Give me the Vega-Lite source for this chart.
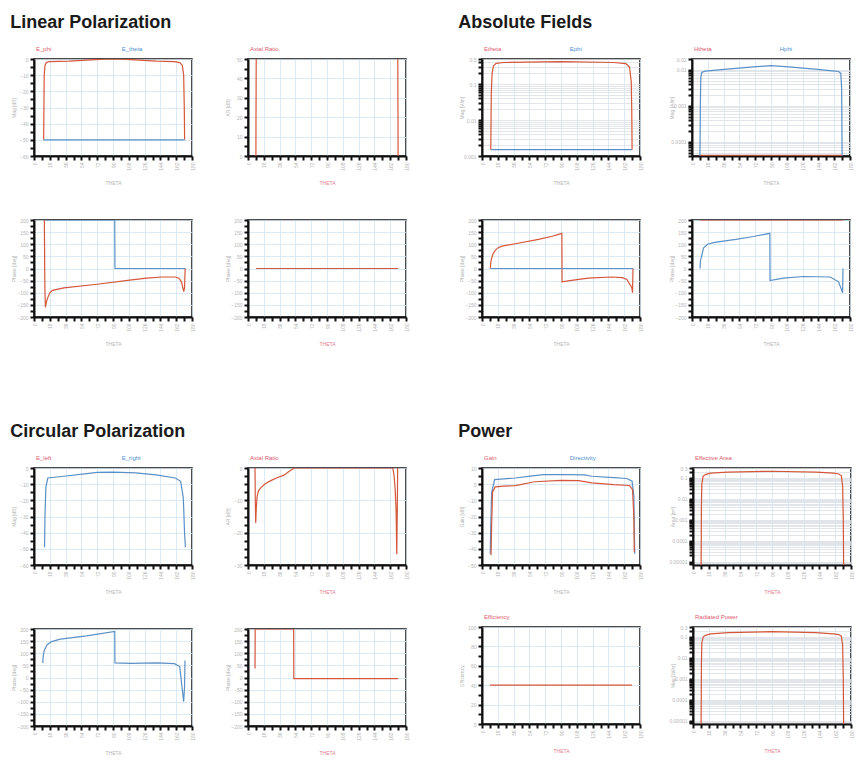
{
"$schema": "https://vega.github.io/schema/vega-lite/v6.json",
"padding": {"left": 10, "top": 14, "right": 0, "bottom": 0},
"background": "white",
"config": {
 "font": "Liberation Sans",
 "view": {"stroke": "#111", "strokeWidth": 1.5},
 "axis": {"labelFontSize": 5, "labelColor": "#b5b5b5", "titleFontSize": 5, "titleColor": "#b5b5b5", "titleFontWeight": "normal", "domainColor": "#111", "domainWidth": 2, "tickColor": "#111", "tickWidth": 2, "tickSize": 4, "gridColor": "#d3e4f1", "gridWidth": 0.8, "labelOverlap": false},
 "axisX": {"labelAngle": -90, "labelAlign": "right", "labelBaseline": "middle", "minExtent": 14, "maxExtent": 14, "titlePadding": 10},
 "axisY": {"minExtent": 16, "maxExtent": 16, "titlePadding": 2},
 "title": {"anchor": "start", "fontSize": 18, "fontWeight": "bold", "color": "#1a1a1a", "offset": 13},
 "line": {"strokeWidth": 1.2},
 "text": {"fontSize": 6, "align": "left", "baseline": "bottom", "dy": -7}
},
"datasets": {
 "a1": [
  {"t":11,"v":-50,"s":"E_phi"},{"t":11.3,"v":-30,"s":"E_phi"},{"t":11.6,"v":-10,"s":"E_phi"},{"t":12.5,"v":-4,"s":"E_phi"},{"t":14,"v":-2.2,"s":"E_phi"},{"t":17,"v":-1.6,"s":"E_phi"},{"t":40,"v":-1.3,"s":"E_phi"},{"t":60,"v":-0.7,"s":"E_phi"},{"t":75,"v":-0.2,"s":"E_phi"},{"t":90,"v":0,"s":"E_phi"},{"t":105,"v":-0.2,"s":"E_phi"},{"t":120,"v":-0.7,"s":"E_phi"},{"t":140,"v":-1.3,"s":"E_phi"},{"t":160,"v":-1.6,"s":"E_phi"},{"t":166,"v":-2.2,"s":"E_phi"},{"t":169,"v":-4,"s":"E_phi"},{"t":170.5,"v":-10,"s":"E_phi"},{"t":171.2,"v":-30,"s":"E_phi"},{"t":171.6,"v":-50,"s":"E_phi"},
  {"t":11,"v":-50,"s":"E_theta"},{"t":171.6,"v":-50,"s":"E_theta"}
 ],
 "a2": [
  {"t":9,"v":0,"s":"AR"},{"t":9.1,"v":20,"s":"AR"},{"t":9.2,"v":26,"s":"AR"},{"t":9.3,"v":45,"s":"AR"},{"t":9.5,"v":60,"s":"AR"},{"t":90,"v":60,"s":"AR"},{"t":170.5,"v":60,"s":"AR"},{"t":170.7,"v":45,"s":"AR"},{"t":170.8,"v":26,"s":"AR"},{"t":170.9,"v":20,"s":"AR"},{"t":171,"v":0,"s":"AR"}
 ],
 "a3": [
  {"t":11.8,"v":200,"s":"E_phi"},{"t":12,"v":100,"s":"E_phi"},{"t":12.2,"v":0,"s":"E_phi"},{"t":12.5,"v":-100,"s":"E_phi"},{"t":13,"v":-160,"s":"E_phi"},{"t":14,"v":-140,"s":"E_phi"},{"t":15.7,"v":-120,"s":"E_phi"},{"t":18,"v":-100,"s":"E_phi"},{"t":21,"v":-90,"s":"E_phi"},{"t":34,"v":-80,"s":"E_phi"},{"t":72,"v":-65,"s":"E_phi"},{"t":109,"v":-48,"s":"E_phi"},{"t":128,"v":-40,"s":"E_phi"},{"t":146,"v":-35,"s":"E_phi"},{"t":161,"v":-35,"s":"E_phi"},{"t":165,"v":-40,"s":"E_phi"},{"t":168,"v":-55,"s":"E_phi"},{"t":170.6,"v":-95,"s":"E_phi"},{"t":171.5,"v":-80,"s":"E_phi"},{"t":172.2,"v":0,"s":"E_phi"},
  {"t":12,"v":200,"s":"E_theta"},{"t":92,"v":200,"s":"E_theta"},{"t":92.2,"v":0,"s":"E_theta"},{"t":172.5,"v":0,"s":"E_theta"}
 ],
 "a4": [
  {"t":9,"v":0,"s":"E_phi"},{"t":171,"v":0,"s":"E_phi"}
 ],
 "b1": [
  {"t":10,"v":0.0015,"s":"Etheta"},{"t":10.3,"v":0.01,"s":"Etheta"},{"t":10.6,"v":0.06,"s":"Etheta"},{"t":11.5,"v":0.2,"s":"Etheta"},{"t":13,"v":0.32,"s":"Etheta"},{"t":16,"v":0.38,"s":"Etheta"},{"t":25,"v":0.4,"s":"Etheta"},{"t":90,"v":0.42,"s":"Etheta"},{"t":150,"v":0.4,"s":"Etheta"},{"t":164,"v":0.37,"s":"Etheta"},{"t":168,"v":0.3,"s":"Etheta"},{"t":170,"v":0.12,"s":"Etheta"},{"t":170.6,"v":0.02,"s":"Etheta"},{"t":171,"v":0.0015,"s":"Etheta"},
  {"t":10,"v":0.0015,"s":"Ephi"},{"t":171,"v":0.0015,"s":"Ephi"}
 ],
 "b2": [
  {"t":9,"v":0.00004,"s":"Hphi"},{"t":9.2,"v":0.0001,"s":"Hphi"},{"t":9.5,"v":0.001,"s":"Hphi"},{"t":10,"v":0.006,"s":"Hphi"},{"t":11,"v":0.0085,"s":"Hphi"},{"t":15,"v":0.0092,"s":"Hphi"},{"t":40,"v":0.0105,"s":"Hphi"},{"t":70,"v":0.012,"s":"Hphi"},{"t":90,"v":0.013,"s":"Hphi"},{"t":110,"v":0.012,"s":"Hphi"},{"t":140,"v":0.0105,"s":"Hphi"},{"t":160,"v":0.0094,"s":"Hphi"},{"t":167,"v":0.009,"s":"Hphi"},{"t":169.5,"v":0.008,"s":"Hphi"},{"t":170.5,"v":0.003,"s":"Hphi"},{"t":171,"v":0.00004,"s":"Hphi"},
  {"t":9,"v":0.000042,"s":"Htheta"},{"t":171,"v":0.000042,"s":"Htheta"}
 ],
 "b3": [
  {"t":9.4,"v":0,"s":"Etheta"},{"t":10,"v":25,"s":"Etheta"},{"t":10.8,"v":40,"s":"Etheta"},{"t":12.5,"v":60,"s":"Etheta"},{"t":15.1,"v":75,"s":"Etheta"},{"t":18,"v":85,"s":"Etheta"},{"t":22.7,"v":92,"s":"Etheta"},{"t":37.9,"v":102,"s":"Etheta"},{"t":64.4,"v":120,"s":"Etheta"},{"t":80,"v":133,"s":"Etheta"},{"t":91,"v":145,"s":"Etheta"},{"t":91.2,"v":-55,"s":"Etheta"},{"t":100,"v":-50,"s":"Etheta"},{"t":121,"v":-40,"s":"Etheta"},{"t":147.8,"v":-35,"s":"Etheta"},{"t":160,"v":-38,"s":"Etheta"},{"t":165,"v":-45,"s":"Etheta"},{"t":170.6,"v":-78,"s":"Etheta"},{"t":171.5,"v":-100,"s":"Etheta"},{"t":172,"v":0,"s":"Etheta"},
  {"t":9.4,"v":0,"s":"Ephi"},{"t":172,"v":0,"s":"Ephi"}
 ],
 "b4": [
  {"t":9.2,"v":0,"s":"Hphi"},{"t":9.5,"v":30,"s":"Hphi"},{"t":10.9,"v":50,"s":"Hphi"},{"t":13.2,"v":85,"s":"Hphi"},{"t":17.8,"v":100,"s":"Hphi"},{"t":25.8,"v":108,"s":"Hphi"},{"t":50,"v":120,"s":"Hphi"},{"t":70,"v":132,"s":"Hphi"},{"t":88.7,"v":145,"s":"Hphi"},{"t":88.9,"v":-50,"s":"Hphi"},{"t":104,"v":-40,"s":"Hphi"},{"t":127,"v":-33,"s":"Hphi"},{"t":157.5,"v":-35,"s":"Hphi"},{"t":167,"v":-55,"s":"Hphi"},{"t":171.6,"v":-100,"s":"Hphi"},{"t":172,"v":0,"s":"Hphi"},
  {"t":9,"v":200,"s":"Htheta"},{"t":172,"v":200,"s":"Htheta"}
 ],
 "c1": [
  {"t":12,"v":-49,"s":"E_right"},{"t":12.5,"v":-30,"s":"E_right"},{"t":13.5,"v":-12,"s":"E_right"},{"t":15.7,"v":-6.2,"s":"E_right"},{"t":34,"v":-5.1,"s":"E_right"},{"t":60,"v":-3.5,"s":"E_right"},{"t":72,"v":-2.7,"s":"E_right"},{"t":90,"v":-2.5,"s":"E_right"},{"t":116,"v":-3,"s":"E_right"},{"t":139,"v":-4.2,"s":"E_right"},{"t":161,"v":-6.2,"s":"E_right"},{"t":167,"v":-8.2,"s":"E_right"},{"t":170,"v":-18,"s":"E_right"},{"t":170.6,"v":-25.7,"s":"E_right"},{"t":171.5,"v":-40,"s":"E_right"},{"t":172.5,"v":-49,"s":"E_right"}
 ],
 "c2": [
  {"t":8,"v":0,"s":"AR"},{"t":8.3,"v":-10,"s":"AR"},{"t":8.8,"v":-17,"s":"AR"},{"t":9.5,"v":-12,"s":"AR"},{"t":10.5,"v":-8.6,"s":"AR"},{"t":12,"v":-7,"s":"AR"},{"t":15,"v":-6,"s":"AR"},{"t":20,"v":-4.8,"s":"AR"},{"t":26,"v":-3.9,"s":"AR"},{"t":33,"v":-3,"s":"AR"},{"t":41,"v":-2.2,"s":"AR"},{"t":47,"v":-1,"s":"AR"},{"t":52.7,"v":0,"s":"AR"},{"t":165,"v":0,"s":"AR"},{"t":166.4,"v":-2.4,"s":"AR"},{"t":167.5,"v":-6,"s":"AR"},{"t":168.7,"v":-12.7,"s":"AR"},{"t":169.5,"v":-26.7,"s":"AR"},{"t":170,"v":-15,"s":"AR"},{"t":170.5,"v":0,"s":"AR"}
 ],
 "c3": [
  {"t":10,"v":60,"s":"E_right"},{"t":10.5,"v":90,"s":"E_right"},{"t":12,"v":115,"s":"E_right"},{"t":15,"v":135,"s":"E_right"},{"t":20,"v":148,"s":"E_right"},{"t":30,"v":158,"s":"E_right"},{"t":60,"v":172,"s":"E_right"},{"t":92,"v":190,"s":"E_right"},{"t":92.2,"v":60,"s":"E_right"},{"t":110,"v":58,"s":"E_right"},{"t":140,"v":60,"s":"E_right"},{"t":160,"v":57,"s":"E_right"},{"t":166,"v":45,"s":"E_right"},{"t":170.5,"v":-100,"s":"E_right"},{"t":171.5,"v":-40,"s":"E_right"},{"t":172,"v":70,"s":"E_right"}
 ],
 "c4": [
  {"t":8,"v":37,"s":"AR"},{"t":8.1,"v":120,"s":"AR"},{"t":8.2,"v":200,"s":"AR"},{"t":52,"v":200,"s":"AR"},{"t":52.2,"v":-5,"s":"AR"},{"t":171,"v":-5,"s":"AR"}
 ],
 "d1": [
  {"t":9.4,"v":-43,"s":"Directivity"},{"t":10,"v":-25,"s":"Directivity"},{"t":11,"v":-5,"s":"Directivity"},{"t":14.4,"v":2.8,"s":"Directivity"},{"t":25,"v":3.3,"s":"Directivity"},{"t":38,"v":3.8,"s":"Directivity"},{"t":55,"v":5,"s":"Directivity"},{"t":70,"v":5.9,"s":"Directivity"},{"t":100,"v":5.9,"s":"Directivity"},{"t":117,"v":5.7,"s":"Directivity"},{"t":125,"v":4.9,"s":"Directivity"},{"t":150,"v":4,"s":"Directivity"},{"t":165,"v":3.5,"s":"Directivity"},{"t":171,"v":1.8,"s":"Directivity"},{"t":173,"v":-7.5,"s":"Directivity"},{"t":174,"v":-43,"s":"Directivity"},
  {"t":10.3,"v":-44,"s":"Gain"},{"t":11,"v":-25,"s":"Gain"},{"t":12,"v":-5,"s":"Gain"},{"t":15,"v":-1.7,"s":"Gain"},{"t":25,"v":-1.2,"s":"Gain"},{"t":38,"v":-0.9,"s":"Gain"},{"t":60,"v":1.5,"s":"Gain"},{"t":90,"v":2.4,"s":"Gain"},{"t":110,"v":2.2,"s":"Gain"},{"t":125,"v":0.75,"s":"Gain"},{"t":150,"v":-0.3,"s":"Gain"},{"t":168,"v":-0.8,"s":"Gain"},{"t":171.5,"v":-3.4,"s":"Gain"},{"t":173,"v":-20,"s":"Gain"},{"t":173.5,"v":-42,"s":"Gain"}
 ],
 "d2": [
  {"t":9.2,"v":0.000007,"s":"EA"},{"t":9.4,"v":0.0001,"s":"EA"},{"t":9.6,"v":0.005,"s":"EA"},{"t":10,"v":0.05,"s":"EA"},{"t":11.5,"v":0.12,"s":"EA"},{"t":14,"v":0.145,"s":"EA"},{"t":20,"v":0.17,"s":"EA"},{"t":40,"v":0.19,"s":"EA"},{"t":90,"v":0.21,"s":"EA"},{"t":140,"v":0.19,"s":"EA"},{"t":160,"v":0.17,"s":"EA"},{"t":166,"v":0.155,"s":"EA"},{"t":169,"v":0.13,"s":"EA"},{"t":170.5,"v":0.04,"s":"EA"},{"t":171.2,"v":0.001,"s":"EA"},{"t":171.6,"v":0.000007,"s":"EA"}
 ],
 "d3": [
  {"t":9,"v":40,"s":"Eff"},{"t":171,"v":40,"s":"Eff"}
 ],
 "d4": [
  {"t":9.2,"v":0.000007,"s":"RP"},{"t":9.4,"v":0.0001,"s":"RP"},{"t":9.6,"v":0.005,"s":"RP"},{"t":10,"v":0.05,"s":"RP"},{"t":11.5,"v":0.1,"s":"RP"},{"t":14,"v":0.12,"s":"RP"},{"t":20,"v":0.14,"s":"RP"},{"t":40,"v":0.16,"s":"RP"},{"t":90,"v":0.18,"s":"RP"},{"t":140,"v":0.16,"s":"RP"},{"t":160,"v":0.14,"s":"RP"},{"t":166,"v":0.13,"s":"RP"},{"t":169,"v":0.11,"s":"RP"},{"t":170.5,"v":0.04,"s":"RP"},{"t":171.2,"v":0.001,"s":"RP"},{"t":171.6,"v":0.000007,"s":"RP"}
 ]
},
"spacing": 76,
"vconcat": [
 {"hconcat": [
  {"title": "Linear Polarization",
   "spacing": 31,
   "vconcat": [
    {"hconcat": [
     {"width": 158, "height": 97, "layer": [
      {"data": {"name": "a1"}, "mark": {"type": "line", "clip": true}, "encoding": {
        "x": {"field": "t", "type": "quantitative", "scale": {"domain": [0, 180], "nice": false}, "axis": {"title": "THETA", "values": [0,9,18,27,36,45,54,63,72,81,90,99,108,117,126,135,144,153,162,171,180], "labelExpr": "datum.value % 18 === 0 ? datum.label : ''", "gridOpacity": {"condition": {"test": "datum.value % 18 === 0", "value": 1}, "value": 0}}},
        "y": {"field": "v", "type": "quantitative", "scale": {"domain": [-60, 0], "nice": false}, "axis": {"title": "Mag [dB]", "values": [-60,-55,-50,-45,-40,-35,-30,-25,-20,-15,-10,-5,0], "labelExpr": "datum.value % 10 === 0 ? datum.label : ''", "gridOpacity": {"condition": {"test": "datum.value % 10 === 0", "value": 1}, "value": 0}}},
        "color": {"field": "s", "type": "nominal", "scale": {"domain": ["E_phi", "E_theta"], "range": ["#d4573b", "#5b90c6"]}, "legend": null}}},
      {"data": {"values": [{}]}, "mark": {"type": "text", "text": "E_phi", "color": "#e05a6e", "dx": 2}, "encoding": {
        "x": {"datum": 0, "type": "quantitative", "axis": {"title": "THETA", "values": [0,9,18,27,36,45,54,63,72,81,90,99,108,117,126,135,144,153,162,171,180], "labelExpr": "datum.value % 18 === 0 ? datum.label : ''", "gridOpacity": {"condition": {"test": "datum.value % 18 === 0", "value": 1}, "value": 0}}},
        "y": {"datum": 0, "type": "quantitative", "axis": {"title": "Mag [dB]", "values": [-60,-55,-50,-45,-40,-35,-30,-25,-20,-15,-10,-5,0], "labelExpr": "datum.value % 10 === 0 ? datum.label : ''", "gridOpacity": {"condition": {"test": "datum.value % 10 === 0", "value": 1}, "value": 0}}}}},
      {"data": {"values": [{}]}, "mark": {"type": "text", "text": "E_theta", "color": "#4f8fd0"}, "encoding": {
        "x": {"datum": 100, "type": "quantitative", "axis": {"title": "THETA", "values": [0,9,18,27,36,45,54,63,72,81,90,99,108,117,126,135,144,153,162,171,180], "labelExpr": "datum.value % 18 === 0 ? datum.label : ''", "gridOpacity": {"condition": {"test": "datum.value % 18 === 0", "value": 1}, "value": 0}}},
        "y": {"datum": 0, "type": "quantitative", "axis": {"title": "Mag [dB]", "values": [-60,-55,-50,-45,-40,-35,-30,-25,-20,-15,-10,-5,0], "labelExpr": "datum.value % 10 === 0 ? datum.label : ''", "gridOpacity": {"condition": {"test": "datum.value % 10 === 0", "value": 1}, "value": 0}}}}}
     ]},
     {"width": 158, "height": 97, "layer": [
      {"data": {"name": "a2"}, "mark": {"type": "line", "clip": true, "color": "#d4573b"}, "encoding": {
        "x": {"field": "t", "type": "quantitative", "scale": {"domain": [0, 180], "nice": false}, "axis": {"title": "THETA", "titleColor": "#e27d8f", "values": [0,9,18,27,36,45,54,63,72,81,90,99,108,117,126,135,144,153,162,171,180], "labelExpr": "datum.value % 18 === 0 ? datum.label : ''", "gridOpacity": {"condition": {"test": "datum.value % 18 === 0", "value": 1}, "value": 0}}},
        "y": {"field": "v", "type": "quantitative", "scale": {"domain": [0, 50], "nice": false}, "axis": {"title": "AR [dB]", "values": [0,5,10,15,20,25,30,35,40,45,50], "labelExpr": "datum.value % 10 === 0 ? datum.label : ''", "gridOpacity": {"condition": {"test": "datum.value % 10 === 0", "value": 1}, "value": 0}}}}},
      {"data": {"values": [{}]}, "mark": {"type": "text", "text": "Axial Ratio", "color": "#e05a6e", "dx": 2}, "encoding": {
        "x": {"datum": 0, "type": "quantitative", "axis": {"title": "THETA", "titleColor": "#e27d8f", "values": [0,9,18,27,36,45,54,63,72,81,90,99,108,117,126,135,144,153,162,171,180], "labelExpr": "datum.value % 18 === 0 ? datum.label : ''", "gridOpacity": {"condition": {"test": "datum.value % 18 === 0", "value": 1}, "value": 0}}},
        "y": {"datum": 50, "type": "quantitative", "axis": {"title": "AR [dB]", "values": [0,5,10,15,20,25,30,35,40,45,50], "labelExpr": "datum.value % 10 === 0 ? datum.label : ''", "gridOpacity": {"condition": {"test": "datum.value % 10 === 0", "value": 1}, "value": 0}}}}}
     ]}
    ], "spacing": 28},
    {"hconcat": [
     {"width": 158, "height": 97, "layer": [
      {"data": {"name": "a3"}, "mark": {"type": "line", "clip": true}, "encoding": {
        "x": {"field": "t", "type": "quantitative", "scale": {"domain": [0, 180], "nice": false}, "axis": {"title": "THETA", "values": [0,9,18,27,36,45,54,63,72,81,90,99,108,117,126,135,144,153,162,171,180], "labelExpr": "datum.value % 18 === 0 ? datum.label : ''", "gridOpacity": {"condition": {"test": "datum.value % 18 === 0", "value": 1}, "value": 0}}},
        "y": {"field": "v", "type": "quantitative", "scale": {"domain": [-200, 200], "nice": false}, "axis": {"title": "Phase [deg]", "values": [-200,-175,-150,-125,-100,-75,-50,-25,0,25,50,75,100,125,150,175,200], "labelExpr": "datum.value % 50 === 0 ? datum.label : ''", "gridOpacity": {"condition": {"test": "datum.value % 50 === 0", "value": 1}, "value": 0}}},
        "color": {"field": "s", "type": "nominal", "scale": {"domain": ["E_phi", "E_theta"], "range": ["#d4573b", "#5b90c6"]}, "legend": null}}}
     ]},
     {"width": 158, "height": 97, "layer": [
      {"data": {"name": "a4"}, "mark": {"type": "line", "clip": true, "color": "#d4573b"}, "encoding": {
        "x": {"field": "t", "type": "quantitative", "scale": {"domain": [0, 180], "nice": false}, "axis": {"title": "THETA", "titleColor": "#e27d8f", "values": [0,9,18,27,36,45,54,63,72,81,90,99,108,117,126,135,144,153,162,171,180], "labelExpr": "datum.value % 18 === 0 ? datum.label : ''", "gridOpacity": {"condition": {"test": "datum.value % 18 === 0", "value": 1}, "value": 0}}},
        "y": {"field": "v", "type": "quantitative", "scale": {"domain": [-200, 200], "nice": false}, "axis": {"title": "Phase [deg]", "values": [-200,-175,-150,-125,-100,-75,-50,-25,0,25,50,75,100,125,150,175,200], "labelExpr": "datum.value % 50 === 0 ? datum.label : ''", "gridOpacity": {"condition": {"test": "datum.value % 50 === 0", "value": 1}, "value": 0}}}}}
     ]}
    ], "spacing": 28}
   ]},
  {"title": "Absolute Fields",
   "spacing": 31,
   "vconcat": [
    {"hconcat": [
     {"width": 158, "height": 97, "layer": [
      {"data": {"name": "b1"}, "mark": {"type": "line", "clip": true}, "encoding": {
        "x": {"field": "t", "type": "quantitative", "scale": {"domain": [0, 180], "nice": false}, "axis": {"title": "THETA", "values": [0,9,18,27,36,45,54,63,72,81,90,99,108,117,126,135,144,153,162,171,180], "labelExpr": "datum.value % 18 === 0 ? datum.label : ''", "gridOpacity": {"condition": {"test": "datum.value % 18 === 0", "value": 1}, "value": 0}}},
        "y": {"field": "v", "type": "quantitative", "scale": {"type": "log", "domain": [0.001, 0.5], "nice": false}, "axis": {"title": "Mag [V/m]", "format": "~g", "gridColor": "#dadfe5", "values": [0.001,0.002,0.003,0.004,0.005,0.006,0.007,0.008,0.009,0.01,0.02,0.03,0.04,0.05,0.06,0.07,0.08,0.09,0.1,0.2,0.3,0.4,0.5], "labelExpr": "indexof([0.001,0.01,0.1,0.5], datum.value) >= 0 ? datum.label : ''"}},
        "color": {"field": "s", "type": "nominal", "scale": {"domain": ["Etheta", "Ephi"], "range": ["#d4573b", "#5b90c6"]}, "legend": null}}},
      {"data": {"values": [{}]}, "mark": {"type": "text", "text": "Etheta", "color": "#e05a6e", "dx": 2}, "encoding": {
        "x": {"datum": 0, "type": "quantitative", "axis": {"title": "THETA", "values": [0,9,18,27,36,45,54,63,72,81,90,99,108,117,126,135,144,153,162,171,180], "labelExpr": "datum.value % 18 === 0 ? datum.label : ''", "gridOpacity": {"condition": {"test": "datum.value % 18 === 0", "value": 1}, "value": 0}}},
        "y": {"datum": 0.5, "type": "quantitative", "axis": {"title": "Mag [V/m]", "format": "~g", "gridColor": "#dadfe5", "values": [0.001,0.002,0.003,0.004,0.005,0.006,0.007,0.008,0.009,0.01,0.02,0.03,0.04,0.05,0.06,0.07,0.08,0.09,0.1,0.2,0.3,0.4,0.5], "labelExpr": "indexof([0.001,0.01,0.1,0.5], datum.value) >= 0 ? datum.label : ''"}}}},
      {"data": {"values": [{}]}, "mark": {"type": "text", "text": "Ephi", "color": "#4f8fd0"}, "encoding": {
        "x": {"datum": 100, "type": "quantitative", "axis": {"title": "THETA", "values": [0,9,18,27,36,45,54,63,72,81,90,99,108,117,126,135,144,153,162,171,180], "labelExpr": "datum.value % 18 === 0 ? datum.label : ''", "gridOpacity": {"condition": {"test": "datum.value % 18 === 0", "value": 1}, "value": 0}}},
        "y": {"datum": 0.5, "type": "quantitative", "axis": {"title": "Mag [V/m]", "format": "~g", "gridColor": "#dadfe5", "values": [0.001,0.002,0.003,0.004,0.005,0.006,0.007,0.008,0.009,0.01,0.02,0.03,0.04,0.05,0.06,0.07,0.08,0.09,0.1,0.2,0.3,0.4,0.5], "labelExpr": "indexof([0.001,0.01,0.1,0.5], datum.value) >= 0 ? datum.label : ''"}}}}
     ]},
     {"width": 158, "height": 97, "layer": [
      {"data": {"name": "b2"}, "mark": {"type": "line", "clip": true}, "encoding": {
        "x": {"field": "t", "type": "quantitative", "scale": {"domain": [0, 180], "nice": false}, "axis": {"title": "THETA", "values": [0,9,18,27,36,45,54,63,72,81,90,99,108,117,126,135,144,153,162,171,180], "labelExpr": "datum.value % 18 === 0 ? datum.label : ''", "gridOpacity": {"condition": {"test": "datum.value % 18 === 0", "value": 1}, "value": 0}}},
        "y": {"field": "v", "type": "quantitative", "scale": {"type": "log", "domain": [0.00004, 0.02], "nice": false}, "axis": {"title": "Mag [A/m]", "format": "~g", "gridColor": "#dadfe5", "values": [0.00004,0.00005,0.00006,0.00007,0.00008,0.00009,0.0001,0.0002,0.0003,0.0004,0.0005,0.0006,0.0007,0.0008,0.0009,0.001,0.002,0.003,0.004,0.005,0.006,0.007,0.008,0.009,0.01,0.02], "labelExpr": "indexof([0.0001,0.001,0.01,0.02], datum.value) >= 0 ? datum.label : ''"}},
        "color": {"field": "s", "type": "nominal", "scale": {"domain": ["Htheta", "Hphi"], "range": ["#d4573b", "#5b90c6"]}, "legend": null}}},
      {"data": {"values": [{}]}, "mark": {"type": "text", "text": "Htheta", "color": "#e05a6e", "dx": 2}, "encoding": {
        "x": {"datum": 0, "type": "quantitative", "axis": {"title": "THETA", "values": [0,9,18,27,36,45,54,63,72,81,90,99,108,117,126,135,144,153,162,171,180], "labelExpr": "datum.value % 18 === 0 ? datum.label : ''", "gridOpacity": {"condition": {"test": "datum.value % 18 === 0", "value": 1}, "value": 0}}},
        "y": {"datum": 0.02, "type": "quantitative", "axis": {"title": "Mag [A/m]", "format": "~g", "gridColor": "#dadfe5", "values": [0.00004,0.00005,0.00006,0.00007,0.00008,0.00009,0.0001,0.0002,0.0003,0.0004,0.0005,0.0006,0.0007,0.0008,0.0009,0.001,0.002,0.003,0.004,0.005,0.006,0.007,0.008,0.009,0.01,0.02], "labelExpr": "indexof([0.0001,0.001,0.01,0.02], datum.value) >= 0 ? datum.label : ''"}}}},
      {"data": {"values": [{}]}, "mark": {"type": "text", "text": "Hphi", "color": "#4f8fd0"}, "encoding": {
        "x": {"datum": 100, "type": "quantitative", "axis": {"title": "THETA", "values": [0,9,18,27,36,45,54,63,72,81,90,99,108,117,126,135,144,153,162,171,180], "labelExpr": "datum.value % 18 === 0 ? datum.label : ''", "gridOpacity": {"condition": {"test": "datum.value % 18 === 0", "value": 1}, "value": 0}}},
        "y": {"datum": 0.02, "type": "quantitative", "axis": {"title": "Mag [A/m]", "format": "~g", "gridColor": "#dadfe5", "values": [0.00004,0.00005,0.00006,0.00007,0.00008,0.00009,0.0001,0.0002,0.0003,0.0004,0.0005,0.0006,0.0007,0.0008,0.0009,0.001,0.002,0.003,0.004,0.005,0.006,0.007,0.008,0.009,0.01,0.02], "labelExpr": "indexof([0.0001,0.001,0.01,0.02], datum.value) >= 0 ? datum.label : ''"}}}}
     ]}
    ], "spacing": 24},
    {"hconcat": [
     {"width": 158, "height": 97, "layer": [
      {"data": {"name": "b3"}, "mark": {"type": "line", "clip": true}, "encoding": {
        "x": {"field": "t", "type": "quantitative", "scale": {"domain": [0, 180], "nice": false}, "axis": {"title": "THETA", "values": [0,9,18,27,36,45,54,63,72,81,90,99,108,117,126,135,144,153,162,171,180], "labelExpr": "datum.value % 18 === 0 ? datum.label : ''", "gridOpacity": {"condition": {"test": "datum.value % 18 === 0", "value": 1}, "value": 0}}},
        "y": {"field": "v", "type": "quantitative", "scale": {"domain": [-200, 200], "nice": false}, "axis": {"title": "Phase [deg]", "values": [-200,-175,-150,-125,-100,-75,-50,-25,0,25,50,75,100,125,150,175,200], "labelExpr": "datum.value % 50 === 0 ? datum.label : ''", "gridOpacity": {"condition": {"test": "datum.value % 50 === 0", "value": 1}, "value": 0}}},
        "color": {"field": "s", "type": "nominal", "scale": {"domain": ["Etheta", "Ephi"], "range": ["#d4573b", "#5b90c6"]}, "legend": null}}}
     ]},
     {"width": 158, "height": 97, "layer": [
      {"data": {"name": "b4"}, "mark": {"type": "line", "clip": true}, "encoding": {
        "x": {"field": "t", "type": "quantitative", "scale": {"domain": [0, 180], "nice": false}, "axis": {"title": "THETA", "values": [0,9,18,27,36,45,54,63,72,81,90,99,108,117,126,135,144,153,162,171,180], "labelExpr": "datum.value % 18 === 0 ? datum.label : ''", "gridOpacity": {"condition": {"test": "datum.value % 18 === 0", "value": 1}, "value": 0}}},
        "y": {"field": "v", "type": "quantitative", "scale": {"domain": [-200, 200], "nice": false}, "axis": {"title": "Phase [deg]", "values": [-200,-175,-150,-125,-100,-75,-50,-25,0,25,50,75,100,125,150,175,200], "labelExpr": "datum.value % 50 === 0 ? datum.label : ''", "gridOpacity": {"condition": {"test": "datum.value % 50 === 0", "value": 1}, "value": 0}}},
        "color": {"field": "s", "type": "nominal", "scale": {"domain": ["Htheta", "Hphi"], "range": ["#d4573b", "#5b90c6"]}, "legend": null}}}
     ]}
    ], "spacing": 24}
   ]}
 ], "spacing": 48},
 {"hconcat": [
  {"title": "Circular Polarization",
   "spacing": 31,
   "vconcat": [
    {"hconcat": [
     {"width": 158, "height": 97, "layer": [
      {"data": {"name": "c1"}, "mark": {"type": "line", "clip": true, "color": "#5b90c6"}, "encoding": {
        "x": {"field": "t", "type": "quantitative", "scale": {"domain": [0, 180], "nice": false}, "axis": {"title": "THETA", "values": [0,9,18,27,36,45,54,63,72,81,90,99,108,117,126,135,144,153,162,171,180], "labelExpr": "datum.value % 18 === 0 ? datum.label : ''", "gridOpacity": {"condition": {"test": "datum.value % 18 === 0", "value": 1}, "value": 0}}},
        "y": {"field": "v", "type": "quantitative", "scale": {"domain": [-60, 0], "nice": false}, "axis": {"title": "Mag [dB]", "values": [-60,-55,-50,-45,-40,-35,-30,-25,-20,-15,-10,-5,0], "labelExpr": "datum.value % 10 === 0 ? datum.label : ''", "gridOpacity": {"condition": {"test": "datum.value % 10 === 0", "value": 1}, "value": 0}}}}},
      {"data": {"values": [{}]}, "mark": {"type": "text", "text": "E_left", "color": "#e05a6e", "dx": 2}, "encoding": {
        "x": {"datum": 0, "type": "quantitative", "axis": {"title": "THETA", "values": [0,9,18,27,36,45,54,63,72,81,90,99,108,117,126,135,144,153,162,171,180], "labelExpr": "datum.value % 18 === 0 ? datum.label : ''", "gridOpacity": {"condition": {"test": "datum.value % 18 === 0", "value": 1}, "value": 0}}},
        "y": {"datum": 0, "type": "quantitative", "axis": {"title": "Mag [dB]", "values": [-60,-55,-50,-45,-40,-35,-30,-25,-20,-15,-10,-5,0], "labelExpr": "datum.value % 10 === 0 ? datum.label : ''", "gridOpacity": {"condition": {"test": "datum.value % 10 === 0", "value": 1}, "value": 0}}}}},
      {"data": {"values": [{}]}, "mark": {"type": "text", "text": "E_right", "color": "#4f8fd0"}, "encoding": {
        "x": {"datum": 100, "type": "quantitative", "axis": {"title": "THETA", "values": [0,9,18,27,36,45,54,63,72,81,90,99,108,117,126,135,144,153,162,171,180], "labelExpr": "datum.value % 18 === 0 ? datum.label : ''", "gridOpacity": {"condition": {"test": "datum.value % 18 === 0", "value": 1}, "value": 0}}},
        "y": {"datum": 0, "type": "quantitative", "axis": {"title": "Mag [dB]", "values": [-60,-55,-50,-45,-40,-35,-30,-25,-20,-15,-10,-5,0], "labelExpr": "datum.value % 10 === 0 ? datum.label : ''", "gridOpacity": {"condition": {"test": "datum.value % 10 === 0", "value": 1}, "value": 0}}}}}
     ]},
     {"width": 158, "height": 97, "layer": [
      {"data": {"name": "c2"}, "mark": {"type": "line", "clip": true, "color": "#d4573b"}, "encoding": {
        "x": {"field": "t", "type": "quantitative", "scale": {"domain": [0, 180], "nice": false}, "axis": {"title": "THETA", "titleColor": "#e27d8f", "values": [0,9,18,27,36,45,54,63,72,81,90,99,108,117,126,135,144,153,162,171,180], "labelExpr": "datum.value % 18 === 0 ? datum.label : ''", "gridOpacity": {"condition": {"test": "datum.value % 18 === 0", "value": 1}, "value": 0}}},
        "y": {"field": "v", "type": "quantitative", "scale": {"domain": [-30, 0], "nice": false}, "axis": {"title": "AR [dB]", "values": [-30,-27.5,-25,-22.5,-20,-17.5,-15,-12.5,-10,-7.5,-5,-2.5,0], "labelExpr": "datum.value % 10 === 0 ? datum.label : ''", "gridOpacity": {"condition": {"test": "datum.value % 10 === 0", "value": 1}, "value": 0}}}}},
      {"data": {"values": [{}]}, "mark": {"type": "text", "text": "Axial Ratio", "color": "#e05a6e", "dx": 2}, "encoding": {
        "x": {"datum": 0, "type": "quantitative", "axis": {"title": "THETA", "titleColor": "#e27d8f", "values": [0,9,18,27,36,45,54,63,72,81,90,99,108,117,126,135,144,153,162,171,180], "labelExpr": "datum.value % 18 === 0 ? datum.label : ''", "gridOpacity": {"condition": {"test": "datum.value % 18 === 0", "value": 1}, "value": 0}}},
        "y": {"datum": 0, "type": "quantitative", "axis": {"title": "AR [dB]", "values": [-30,-27.5,-25,-22.5,-20,-17.5,-15,-12.5,-10,-7.5,-5,-2.5,0], "labelExpr": "datum.value % 10 === 0 ? datum.label : ''", "gridOpacity": {"condition": {"test": "datum.value % 10 === 0", "value": 1}, "value": 0}}}}}
     ]}
    ], "spacing": 28},
    {"hconcat": [
     {"width": 158, "height": 97, "layer": [
      {"data": {"name": "c3"}, "mark": {"type": "line", "clip": true, "color": "#5b90c6"}, "encoding": {
        "x": {"field": "t", "type": "quantitative", "scale": {"domain": [0, 180], "nice": false}, "axis": {"title": "THETA", "values": [0,9,18,27,36,45,54,63,72,81,90,99,108,117,126,135,144,153,162,171,180], "labelExpr": "datum.value % 18 === 0 ? datum.label : ''", "gridOpacity": {"condition": {"test": "datum.value % 18 === 0", "value": 1}, "value": 0}}},
        "y": {"field": "v", "type": "quantitative", "scale": {"domain": [-200, 200], "nice": false}, "axis": {"title": "Phase [deg]", "values": [-200,-175,-150,-125,-100,-75,-50,-25,0,25,50,75,100,125,150,175,200], "labelExpr": "datum.value % 50 === 0 ? datum.label : ''", "gridOpacity": {"condition": {"test": "datum.value % 50 === 0", "value": 1}, "value": 0}}}}}
     ]},
     {"width": 158, "height": 97, "layer": [
      {"data": {"name": "c4"}, "mark": {"type": "line", "clip": true, "color": "#d4573b"}, "encoding": {
        "x": {"field": "t", "type": "quantitative", "scale": {"domain": [0, 180], "nice": false}, "axis": {"title": "THETA", "titleColor": "#e27d8f", "values": [0,9,18,27,36,45,54,63,72,81,90,99,108,117,126,135,144,153,162,171,180], "labelExpr": "datum.value % 18 === 0 ? datum.label : ''", "gridOpacity": {"condition": {"test": "datum.value % 18 === 0", "value": 1}, "value": 0}}},
        "y": {"field": "v", "type": "quantitative", "scale": {"domain": [-200, 200], "nice": false}, "axis": {"title": "Phase [deg]", "values": [-200,-175,-150,-125,-100,-75,-50,-25,0,25,50,75,100,125,150,175,200], "labelExpr": "datum.value % 50 === 0 ? datum.label : ''", "gridOpacity": {"condition": {"test": "datum.value % 50 === 0", "value": 1}, "value": 0}}}}}
     ]}
    ], "spacing": 28}
   ]},
  {"title": "Power",
   "spacing": 18,
   "vconcat": [
    {"hconcat": [
     {"width": 158, "height": 97, "layer": [
      {"data": {"name": "d1"}, "mark": {"type": "line", "clip": true}, "encoding": {
        "x": {"field": "t", "type": "quantitative", "scale": {"domain": [0, 180], "nice": false}, "axis": {"title": "THETA", "values": [0,9,18,27,36,45,54,63,72,81,90,99,108,117,126,135,144,153,162,171,180], "labelExpr": "datum.value % 18 === 0 ? datum.label : ''", "gridOpacity": {"condition": {"test": "datum.value % 18 === 0", "value": 1}, "value": 0}}},
        "y": {"field": "v", "type": "quantitative", "scale": {"domain": [-50, 10], "nice": false}, "axis": {"title": "Gain [dB]", "values": [-50,-45,-40,-35,-30,-25,-20,-15,-10,-5,0,5,10], "labelExpr": "datum.value % 10 === 0 ? datum.label : ''", "gridOpacity": {"condition": {"test": "datum.value % 10 === 0", "value": 1}, "value": 0}}},
        "color": {"field": "s", "type": "nominal", "scale": {"domain": ["Gain", "Directivity"], "range": ["#d4573b", "#5b90c6"]}, "legend": null}}},
      {"data": {"values": [{}]}, "mark": {"type": "text", "text": "Gain", "color": "#e05a6e", "dx": 2}, "encoding": {
        "x": {"datum": 0, "type": "quantitative", "axis": {"title": "THETA", "values": [0,9,18,27,36,45,54,63,72,81,90,99,108,117,126,135,144,153,162,171,180], "labelExpr": "datum.value % 18 === 0 ? datum.label : ''", "gridOpacity": {"condition": {"test": "datum.value % 18 === 0", "value": 1}, "value": 0}}},
        "y": {"datum": 10, "type": "quantitative", "axis": {"title": "Gain [dB]", "values": [-50,-45,-40,-35,-30,-25,-20,-15,-10,-5,0,5,10], "labelExpr": "datum.value % 10 === 0 ? datum.label : ''", "gridOpacity": {"condition": {"test": "datum.value % 10 === 0", "value": 1}, "value": 0}}}}},
      {"data": {"values": [{}]}, "mark": {"type": "text", "text": "Directivity", "color": "#4f8fd0"}, "encoding": {
        "x": {"datum": 100, "type": "quantitative", "axis": {"title": "THETA", "values": [0,9,18,27,36,45,54,63,72,81,90,99,108,117,126,135,144,153,162,171,180], "labelExpr": "datum.value % 18 === 0 ? datum.label : ''", "gridOpacity": {"condition": {"test": "datum.value % 18 === 0", "value": 1}, "value": 0}}},
        "y": {"datum": 10, "type": "quantitative", "axis": {"title": "Gain [dB]", "values": [-50,-45,-40,-35,-30,-25,-20,-15,-10,-5,0,5,10], "labelExpr": "datum.value % 10 === 0 ? datum.label : ''", "gridOpacity": {"condition": {"test": "datum.value % 10 === 0", "value": 1}, "value": 0}}}}}
     ]},
     {"width": 158, "height": 97, "layer": [
      {"data": {"name": "d2"}, "mark": {"type": "line", "clip": true, "color": "#d4573b"}, "encoding": {
        "x": {"field": "t", "type": "quantitative", "scale": {"domain": [0, 180], "nice": false}, "axis": {"title": "THETA", "titleColor": "#e27d8f", "values": [0,9,18,27,36,45,54,63,72,81,90,99,108,117,126,135,144,153,162,171,180], "labelExpr": "datum.value % 18 === 0 ? datum.label : ''", "gridOpacity": {"condition": {"test": "datum.value % 18 === 0", "value": 1}, "value": 0}}},
        "y": {"field": "v", "type": "quantitative", "scale": {"type": "log", "domain": [0.000007, 0.3], "nice": false}, "axis": {"title": "Area [m²]", "format": "~g", "gridColor": "#dadfe5", "values": [0.000008,0.000009,0.00001,0.00002,0.00003,0.00004,0.00005,0.00006,0.00007,0.00008,0.00009,0.0001,0.0002,0.0003,0.0004,0.0005,0.0006,0.0007,0.0008,0.0009,0.001,0.002,0.003,0.004,0.005,0.006,0.007,0.008,0.009,0.01,0.02,0.03,0.04,0.05,0.06,0.07,0.08,0.09,0.1,0.2,0.3], "labelExpr": "indexof([0.00001,0.0001,0.001,0.01,0.1,0.3], datum.value) >= 0 ? datum.label : ''"}}}},
      {"data": {"values": [{}]}, "mark": {"type": "text", "text": "Effective Area", "color": "#e05a6e", "dx": 2}, "encoding": {
        "x": {"datum": 0, "type": "quantitative", "axis": {"title": "THETA", "titleColor": "#e27d8f", "values": [0,9,18,27,36,45,54,63,72,81,90,99,108,117,126,135,144,153,162,171,180], "labelExpr": "datum.value % 18 === 0 ? datum.label : ''", "gridOpacity": {"condition": {"test": "datum.value % 18 === 0", "value": 1}, "value": 0}}},
        "y": {"datum": 0.3, "type": "quantitative", "axis": {"title": "Area [m²]", "format": "~g", "gridColor": "#dadfe5", "values": [0.000008,0.000009,0.00001,0.00002,0.00003,0.00004,0.00005,0.00006,0.00007,0.00008,0.00009,0.0001,0.0002,0.0003,0.0004,0.0005,0.0006,0.0007,0.0008,0.0009,0.001,0.002,0.003,0.004,0.005,0.006,0.007,0.008,0.009,0.01,0.02,0.03,0.04,0.05,0.06,0.07,0.08,0.09,0.1,0.2,0.3], "labelExpr": "indexof([0.00001,0.0001,0.001,0.01,0.1,0.3], datum.value) >= 0 ? datum.label : ''"}}}}
     ]}
    ], "spacing": 24},
    {"hconcat": [
     {"width": 158, "height": 97, "layer": [
      {"data": {"name": "d3"}, "mark": {"type": "line", "clip": true, "color": "#d4573b"}, "encoding": {
        "x": {"field": "t", "type": "quantitative", "scale": {"domain": [0, 180], "nice": false}, "axis": {"title": "THETA", "titleColor": "#e27d8f", "values": [0,9,18,27,36,45,54,63,72,81,90,99,108,117,126,135,144,153,162,171,180], "labelExpr": "datum.value % 18 === 0 ? datum.label : ''", "gridOpacity": {"condition": {"test": "datum.value % 18 === 0", "value": 1}, "value": 0}}},
        "y": {"field": "v", "type": "quantitative", "scale": {"domain": [0, 100], "nice": false}, "axis": {"title": "Efficiency", "values": [0,10,20,30,40,50,60,70,80,90,100], "labelExpr": "datum.value % 20 === 0 ? datum.label : ''", "gridOpacity": {"condition": {"test": "datum.value % 20 === 0", "value": 1}, "value": 0}}}}},
      {"data": {"values": [{}]}, "mark": {"type": "text", "text": "Efficiency", "color": "#e05a6e", "dx": 2}, "encoding": {
        "x": {"datum": 0, "type": "quantitative", "axis": {"title": "THETA", "titleColor": "#e27d8f", "values": [0,9,18,27,36,45,54,63,72,81,90,99,108,117,126,135,144,153,162,171,180], "labelExpr": "datum.value % 18 === 0 ? datum.label : ''", "gridOpacity": {"condition": {"test": "datum.value % 18 === 0", "value": 1}, "value": 0}}},
        "y": {"datum": 100, "type": "quantitative", "axis": {"title": "Efficiency", "values": [0,10,20,30,40,50,60,70,80,90,100], "labelExpr": "datum.value % 20 === 0 ? datum.label : ''", "gridOpacity": {"condition": {"test": "datum.value % 20 === 0", "value": 1}, "value": 0}}}}}
     ]},
     {"width": 158, "height": 97, "layer": [
      {"data": {"name": "d4"}, "mark": {"type": "line", "clip": true, "color": "#d4573b"}, "encoding": {
        "x": {"field": "t", "type": "quantitative", "scale": {"domain": [0, 180], "nice": false}, "axis": {"title": "THETA", "titleColor": "#e27d8f", "values": [0,9,18,27,36,45,54,63,72,81,90,99,108,117,126,135,144,153,162,171,180], "labelExpr": "datum.value % 18 === 0 ? datum.label : ''", "gridOpacity": {"condition": {"test": "datum.value % 18 === 0", "value": 1}, "value": 0}}},
        "y": {"field": "v", "type": "quantitative", "scale": {"type": "log", "domain": [0.000007, 0.3], "nice": false}, "axis": {"title": "Mag [W/sr]", "format": "~g", "gridColor": "#dadfe5", "values": [0.000008,0.000009,0.00001,0.00002,0.00003,0.00004,0.00005,0.00006,0.00007,0.00008,0.00009,0.0001,0.0002,0.0003,0.0004,0.0005,0.0006,0.0007,0.0008,0.0009,0.001,0.002,0.003,0.004,0.005,0.006,0.007,0.008,0.009,0.01,0.02,0.03,0.04,0.05,0.06,0.07,0.08,0.09,0.1,0.2,0.3], "labelExpr": "indexof([0.00001,0.0001,0.001,0.01,0.1,0.3], datum.value) >= 0 ? datum.label : ''"}}}},
      {"data": {"values": [{}]}, "mark": {"type": "text", "text": "Radiated Power", "color": "#e05a6e", "dx": 2}, "encoding": {
        "x": {"datum": 0, "type": "quantitative", "axis": {"title": "THETA", "titleColor": "#e27d8f", "values": [0,9,18,27,36,45,54,63,72,81,90,99,108,117,126,135,144,153,162,171,180], "labelExpr": "datum.value % 18 === 0 ? datum.label : ''", "gridOpacity": {"condition": {"test": "datum.value % 18 === 0", "value": 1}, "value": 0}}},
        "y": {"datum": 0.3, "type": "quantitative", "axis": {"title": "Mag [W/sr]", "format": "~g", "gridColor": "#dadfe5", "values": [0.000008,0.000009,0.00001,0.00002,0.00003,0.00004,0.00005,0.00006,0.00007,0.00008,0.00009,0.0001,0.0002,0.0003,0.0004,0.0005,0.0006,0.0007,0.0008,0.0009,0.001,0.002,0.003,0.004,0.005,0.006,0.007,0.008,0.009,0.01,0.02,0.03,0.04,0.05,0.06,0.07,0.08,0.09,0.1,0.2,0.3], "labelExpr": "indexof([0.00001,0.0001,0.001,0.01,0.1,0.3], datum.value) >= 0 ? datum.label : ''"}}}}
     ]}
    ], "spacing": 24}
   ]}
 ], "spacing": 48}
]
}
